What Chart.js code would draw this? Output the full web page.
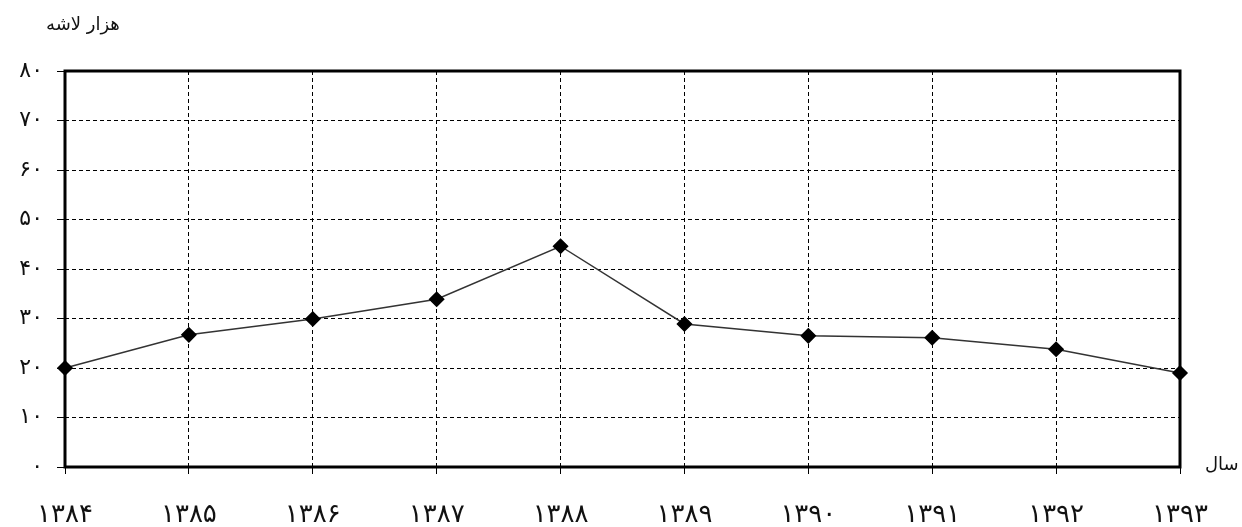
<!DOCTYPE html>
<html lang="fa">
<head>
<meta charset="utf-8">
<script src="https://cdn.jsdelivr.net/npm/chart.js@4.4.1/dist/chart.umd.min.js"></script>
<style>
  html, body { margin: 0; padding: 0; background: #fff; }
  #wrap { position: relative; width: 1242px; height: 527px; }
  .axis-title {
    position: absolute;
    font-family: "DejaVu Sans", sans-serif;
    font-size: 18px;
    color: #111;
    direction: rtl;
    white-space: nowrap;
  }
  #yTitle { left: 46px; top: 13px; }
  #xTitle { left: 1205px; top: 453px; }
</style>
</head>
<body>
<div id="wrap">
  <canvas id="chart"></canvas>
  <div class="axis-title" id="yTitle">هزار لاشه</div>
  <div class="axis-title" id="xTitle">سال</div>
</div>
<script>
// سال‌ها و مقادیر (هزار لاشه)
const years  = ["۱۳۸۴","۱۳۸۵","۱۳۸۶","۱۳۸۷","۱۳۸۸","۱۳۸۹","۱۳۹۰","۱۳۹۱","۱۳۹۲","۱۳۹۳"];
const values = [20, 26.7, 29.9, 33.9, 44.6, 28.9, 26.5, 26.1, 23.8, 19.0];
const yTickLabels = ["۰","۱۰","۲۰","۳۰","۴۰","۵۰","۶۰","۷۰","۸۰"];

const FONT = "'DejaVu Sans', sans-serif";

// قاب ضخیم دور ناحیه نمودار
const framePlugin = {
  id: "frame",
  afterDatasetsDraw(chart) {
    const { ctx, chartArea: a } = chart;
    ctx.save();
    ctx.strokeStyle = "#000";
    ctx.lineWidth = 3;
    ctx.strokeRect(a.left, a.top, a.right - a.left, a.bottom - a.top);
    ctx.restore();
  },
};

new Chart(document.getElementById("chart"), {
  type: "line",
  data: {
    labels: years,
    datasets: [{
      data: values,
      borderColor: "#333",
      borderWidth: 1.5,
      tension: 0,
      pointStyle: "rectRot",
      pointRadius: 7,
      pointBackgroundColor: "#000",
      pointBorderColor: "#000",
      clip: false,
    }],
  },
  options: {
    responsive: true,
    maintainAspectRatio: false,
    animation: false,
    layout: { padding: { top: 71, right: 62, left: 0, bottom: 0 } },
    plugins: { legend: { display: false }, tooltip: { enabled: false } },
    scales: {
      x: {
        offset: false,
        grid: {
          color: "#000", lineWidth: 1,
          tickLength: 7, tickColor: "#000", tickWidth: 1,
          tickBorderDash: [],
        },
        border: { display: false, dash: [4, 3] },
        ticks: { color: "#111", font: { family: FONT, size: 26 }, padding: 26, maxRotation: 0 },
        afterFit(scale) { scale.height = 60; },
      },
      y: {
        min: 0, max: 80,
        grid: {
          color: "#000", lineWidth: 1,
          tickLength: 8, tickColor: "#000", tickWidth: 1,
          tickBorderDash: [],
        },
        border: { display: false, dash: [4, 3] },
        ticks: {
          stepSize: 10, color: "#111", padding: 14,
          font: { family: FONT, size: 22 },
          callback: (v) => yTickLabels[v / 10],
        },
        afterFit(scale) { scale.width = 65; },
      },
    },
  },
  plugins: [framePlugin],
});
</script>
</body>
</html>
